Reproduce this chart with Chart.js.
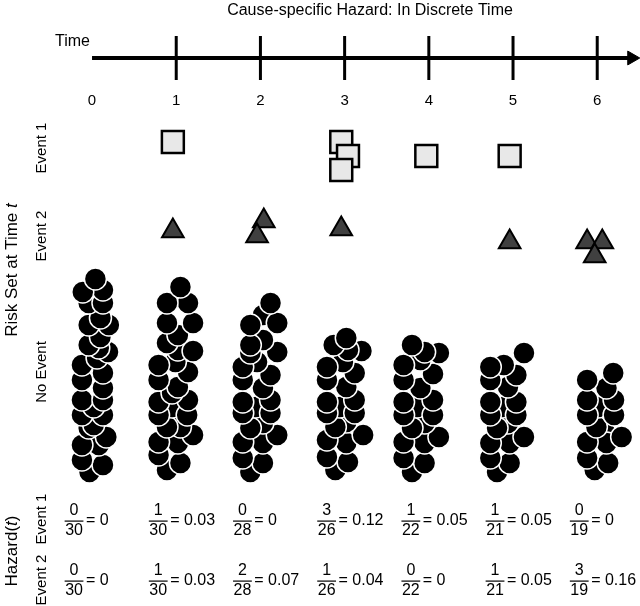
<!DOCTYPE html>
<html>
<head>
<meta charset="utf-8">
<script src="https://cdn.jsdelivr.net/npm/chart.js@4/dist/chart.umd.min.js"></script>
<style>
  body { margin: 0; background: #fff; }
  #wrap { width: 640px; height: 606px; }
</style>
</head>
<body>
<div id="wrap"><canvas id="hazard" width="640" height="606"></canvas></div>
<script>
// time points and the risk set
var timeLabels = [0, 1, 2, 3, 4, 5, 6];
var timeTicks = [1, 2, 3, 4, 5, 6];
var atRisk = [30, 30, 28, 26, 22, 21, 19];
var event1Count = [0, 1, 0, 3, 1, 1, 0];
var event2Count = [0, 1, 2, 1, 0, 1, 3];

// y runs downwards (0 = top of the figure)
var timelineY = 58;

// event 1 (squares) and event 2 (triangles): [time, y]
var event1Marks = [[0.96, 142], [2.96, 142], [3.04, 156], [2.96, 170], [3.97, 156], [4.96, 156]];
var event2Marks = [[0.96, 231], [2.04, 221], [1.96, 236], [2.96, 229], [4.96, 242],
  [5.88, 242], [6.06, 242], [5.97, 256]];

// no event (circles) per time point: [time, y]
var noEventT0 = [[-0.03,472],[0.13,465],[-0.12,460],[0.08,445],[-0.12,445],[0.17,437],[-0.04,428],[0.02,425],
  [-0.12,415],[0.13,415],[0.02,407],[-0.12,400],[0.13,400],[0.13,388],[-0.12,380],[0.13,373],[-0.12,365],
  [0.06,358],[0.19,352],[0.08,348],[-0.04,345],[0.10,337],[0.20,325],[-0.04,325],[0.10,318],[-0.04,303],
  [0.13,303],[0.13,290],[-0.11,292],[0.04,279]];
var noEventT1 = [[0.89,470],[1.05,463],[0.79,455],[1.02,443],[0.79,442],[1.20,435],[1.05,427],[0.89,427],
  [0.95,407],[1.13,415],[0.79,415],[1.14,400],[0.79,402],[0.95,393],[1.02,387],[0.79,380],[1.14,372],
  [0.99,362],[0.79,365],[1.02,350],[1.20,351],[0.89,343],[1.02,335],[1.20,323],[0.89,323],[1.14,303],
  [0.89,303],[1.05,287]];
var noEventT2 = [[1.88,472],[2.03,463],[1.79,458],[2.03,443],[1.79,442],[2.20,435],[2.03,423],[1.88,428],
  [1.94,407],[2.12,413],[1.79,413],[2.12,400],[1.79,402],[2.03,388],[1.79,380],[2.12,375],[1.96,362],
  [1.79,367],[1.88,353],[2.20,352],[2.03,340],[1.88,345],[2.03,315],[2.20,323],[1.88,325],[2.12,303]];
var noEventT3 = [[2.89,470],[3.04,462],[2.79,457],[3.02,443],[2.79,440],[3.22,435],[3.02,422],[2.89,427],
  [2.94,407],[3.12,413],[2.79,413],[3.12,400],[2.79,402],[3.02,387],[3.12,373],[2.79,380],[2.98,362],
  [2.79,367],[3.20,351],[3.04,350],[2.87,345],[3.02,338]];
var noEventT4 = [[3.80,472],[3.95,463],[3.70,458],[3.95,443],[3.70,442],[4.12,437],[3.95,423],[3.80,428],
  [3.86,407],[4.05,415],[3.70,415],[4.05,400],[3.70,402],[3.90,388],[3.70,380],[4.05,374],[3.90,360],
  [3.70,365],[4.12,353],[3.95,352],[3.80,345]];
var noEventT5 = [[4.81,472],[4.96,463],[4.73,458],[4.96,443],[4.73,443],[5.13,437],[4.94,423],[4.81,428],
  [4.87,407],[5.04,415],[4.73,415],[5.04,402],[4.73,402],[4.94,387],[4.73,380],[5.04,375],[4.89,365],
  [4.73,367],[5.13,353]];
var noEventT6 = [[5.97,470],[6.13,463],[5.88,458],[6.09,432],[6.11,443],[6.29,437],[5.88,442],[5.99,427],
  [6.01,407],[6.20,415],[5.88,415],[6.20,400],[5.88,400],[6.11,388],[5.88,380],[6.19,373]];

var noEventCols = [noEventT0, noEventT1, noEventT2, noEventT3, noEventT4, noEventT5, noEventT6];

function pts(arr) {
  return arr.map(function (p) { return { x: p[0], y: p[1] }; });
}

function hazardText(n, d) {
  var v = n / d;
  return v === 0 ? '0' : v.toFixed(2);
}

var FONT = '"Liberation Sans", Arial, sans-serif';

var datasets = [];

// timeline, ticks and arrow head on top
datasets.push({
  data: pts([[0, timelineY], [6.41, timelineY]]),
  showLine: true, borderColor: '#000', borderWidth: 4, pointRadius: 0
});
datasets.push({
  data: timeTicks.map(function (t) { return { x: t, y: timelineY }; }),
  pointStyle: 'line', rotation: 90, pointRadius: 22, borderColor: '#000', borderWidth: 3
});
datasets.push({
  data: pts([[6.41, timelineY]]),
  pointStyle: 'triangle', rotation: 90, pointRadius: 8,
  backgroundColor: '#000', borderColor: '#000', borderWidth: 1
});
datasets.push({
  data: pts(event1Marks),
  pointStyle: 'rect', pointRadius: 15.5,
  backgroundColor: '#e8e8e8', borderColor: '#000', borderWidth: 2.5
});
datasets.push({
  data: pts(event2Marks),
  pointStyle: 'triangle', pointRadius: 12.5,
  backgroundColor: '#404040', borderColor: '#000', borderWidth: 2
});
noEventCols.forEach(function (col) {
  datasets.push({
    data: pts(col),
    pointStyle: 'circle', pointRadius: 11,
    backgroundColor: '#000', borderColor: '#fff', borderWidth: 1.5
  });
});

// all the text of the figure
var textPlugin = {
  id: 'figureText',
  afterDatasetsDraw: function (chart) {
    var ctx = chart.ctx;
    var xs = chart.scales.x;
    ctx.save();
    ctx.fillStyle = '#000';
    ctx.textBaseline = 'middle';

    ctx.font = '16px ' + FONT;
    ctx.textAlign = 'center';
    ctx.fillText('Cause-specific Hazard: In Discrete Time', 370, 11);

    ctx.textAlign = 'left';
    ctx.fillText('Time', 55, 42);

    ctx.textAlign = 'center';
    ctx.font = '15px ' + FONT;
    timeLabels.forEach(function (t) {
      ctx.fillText(String(t), xs.getPixelForValue(t), 101);
    });

    function vtext(parts, x, y, size) {
      ctx.save();
      ctx.translate(x, y);
      ctx.rotate(-Math.PI / 2);
      var total = 0;
      parts.forEach(function (p) {
        ctx.font = (p[1] ? 'italic ' : '') + size + 'px ' + FONT;
        total += ctx.measureText(p[0]).width;
      });
      var cx = -total / 2;
      ctx.textAlign = 'left';
      parts.forEach(function (p) {
        ctx.font = (p[1] ? 'italic ' : '') + size + 'px ' + FONT;
        ctx.fillText(p[0], cx, 0);
        cx += ctx.measureText(p[0]).width;
      });
      ctx.restore();
    }

    vtext([['Event 1', false]], 42, 148, 15);
    vtext([['Event 2', false]], 42, 236, 15);
    vtext([['No Event', false]], 42, 372, 15);
    vtext([['Risk Set at Time ', false], ['t', true]], 12, 270, 17);
    vtext([['Hazard(', false], ['t', true], [')', false]], 12, 551, 17);
    vtext([['Event 1', false]], 42, 519, 15);
    vtext([['Event 2', false]], 42, 580, 15);

    function fraction(num, den, value, cx, cy) {
      ctx.font = '16px ' + FONT;
      ctx.textAlign = 'center';
      ctx.fillText(String(num), cx, cy - 10);
      ctx.fillText(String(den), cx, cy + 10);
      var w = ctx.measureText(String(den)).width;
      ctx.fillRect(cx - w / 2 - 0.5, cy - 0.5, w + 1, 1.2);
      ctx.textAlign = 'left';
      ctx.fillText('= ' + value, cx + w / 2 + 3, cy);
    }

    timeLabels.forEach(function (t, i) {
      var cx = xs.getPixelForValue(t) - 18;
      fraction(event1Count[i], atRisk[i], hazardText(event1Count[i], atRisk[i]), cx, 521);
      fraction(event2Count[i], atRisk[i], hazardText(event2Count[i], atRisk[i]), cx, 581);
    });
    ctx.restore();
  }
};

var config = {
  type: 'scatter',
  data: { datasets: datasets },
  options: {
    responsive: false,
    animation: false,
    events: [],
    layout: { padding: 0, autoPadding: false },
    plugins: { legend: { display: false }, tooltip: { enabled: false }, title: { display: false } },
    scales: {
      x: { type: 'linear', min: -1.093, max: 6.508, display: false },
      y: { type: 'linear', min: 0, max: 606, reverse: true, display: false }
    }
  },
  plugins: [textPlugin]
};

var myChart = new Chart(document.getElementById('hazard'), config);
</script>
</body>
</html>
